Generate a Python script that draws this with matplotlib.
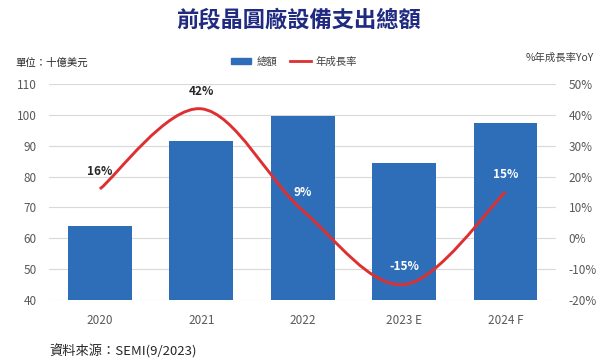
import matplotlib.pyplot as plt
import numpy as np
from matplotlib.path import Path
from matplotlib.patches import PathPatch, Patch
from matplotlib.lines import Line2D

plt.rcParams['font.family'] = ['Noto Sans CJK TC', 'DejaVu Sans']

years = ['2020', '2021', '2022', '2023 E', '2024 F']
totals = [64.0, 91.5, 99.6, 84.3, 97.3]
growth = [16, 42, 9, -15, 15]
growth_labels = ['16%', '42%', '9%', '-15%', '15%']

bar_color = '#2E6DB8'
line_color = '#DE3030'
tick_color = '#595959'

fig = plt.figure(figsize=(6, 3.61), dpi=100)
ax = fig.add_axes([0.082, 0.169, 0.845, 0.598])
ax2 = ax.twinx()

x = np.arange(len(years))
ax.bar(x, totals, width=0.63, color=bar_color, zorder=2)
ax.set_ylim(40, 110)
ax.set_yticks(range(40, 111, 10))
ax.set_xlim(-0.5, len(years) - 0.5)
ax.set_xticks(x)
ax.set_xticklabels(years)
ax.grid(axis='y', color='#D9D9D9', linewidth=0.8, zorder=0)
ax.set_axisbelow(True)

# smooth line like Excel: Catmull-Rom as Bezier curves
pts = np.column_stack([x, growth]).astype(float)
ext = np.vstack([pts[0], pts, pts[-1]])
verts = [pts[0]]
codes = [Path.MOVETO]
for i in range(len(pts) - 1):
    p0, p1, p2, p3 = ext[i], ext[i + 1], ext[i + 2], ext[i + 3]
    verts += [p1 + (p2 - p0) / 6, p2 - (p3 - p1) / 6, p2]
    codes += [Path.CURVE4] * 3
ax2.add_patch(PathPatch(Path(verts, codes), facecolor='none',
                        edgecolor=line_color, linewidth=2.1, zorder=3))
ax2.set_ylim(-20, 50)
ax2.set_yticks(range(-20, 51, 10))
ax2.set_yticklabels([f'{v}%' for v in range(-20, 51, 10)])

for i, (g, lab) in enumerate(zip(growth, growth_labels)):
    ax2.annotate(lab, (x[i], g), xytext=(0, 8), textcoords='offset points',
                 ha='center', va='bottom', fontsize=8.5, fontweight='bold',
                 color='white' if i >= 2 else '#262626')

for a in (ax, ax2):
    for s in a.spines.values():
        s.set_visible(False)
    a.tick_params(length=0, labelsize=8.5, colors=tick_color)
ax.tick_params(axis='x', pad=10)
ax.tick_params(axis='y', pad=9)
ax2.tick_params(axis='y', pad=9)

fig.text(0.497, 0.945, '前段晶圓廠設備支出總額', ha='center', va='center',
         fontsize=16, fontweight='bold', color='#1F2A80')
fig.text(0.025, 0.826, '單位：十億美元', ha='left', va='center', fontsize=7.5, color='#262626')
fig.text(0.99, 0.84, '%年成長率YoY', ha='right', va='center', fontsize=7.5, color='#404040')
fig.text(0.083, 0.028, '資料來源：SEMI(9/2023)', ha='left', va='center', fontsize=9.5, color='#262626')

handles = [Patch(color=bar_color, label='總額'),
           Line2D([], [], color=line_color, linewidth=2, label='年成長率')]
fig.legend(handles=handles, loc='center', bbox_to_anchor=(0.49, 0.83), ncol=2,
           frameon=False, fontsize=7.5, handlelength=2.0, handleheight=0.6,
           columnspacing=1.2, handletextpad=0.5, labelcolor='#404040')

fig.savefig('out.png', dpi=100)
